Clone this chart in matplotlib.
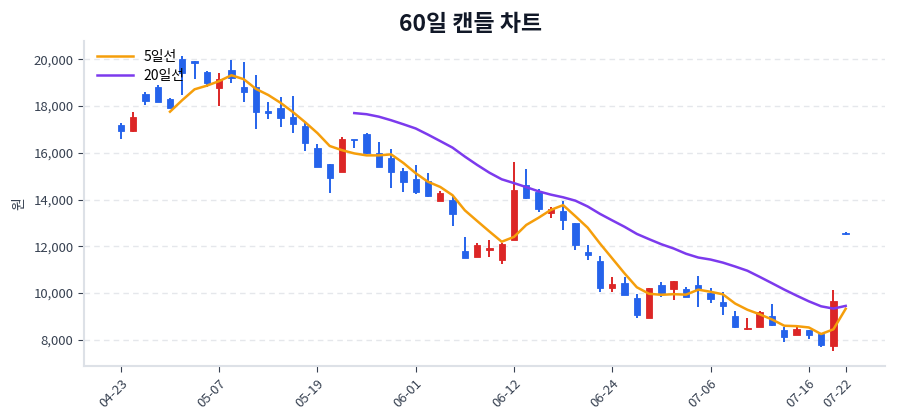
import matplotlib
matplotlib.use("Agg")
import matplotlib.pyplot as plt
import numpy as np
import pandas as pd

plt.rcParams["font.family"] = ["Noto Sans CJK KR", "DejaVu Sans"]

# 60일 OHLC
opens = [17190, 16920, 18500, 18800, 18290, 20010, 19930, 19460, 18790, 19540,
         18800, 18800, 17790, 17930, 17520, 17160, 16200, 15510, 15170, 16560,
         16790, 15980, 15770, 15230, 14880, 14800, 13920, 13990, 11810, 11540,
         11850, 11420, 12280, 14630, 14340, 13420, 13490, 12990, 11740, 11380,
         10210, 10430, 9790, 8930, 10330, 10190, 10190, 10360, 10000, 9620,
         9030, 8440, 8550, 9000, 8400, 8220, 8430, 8260, 7710, 12560]
highs = [17265, 17761, 18616, 18902, 18330, 20154, 19930, 19487, 19427, 19970,
         19897, 19329, 18188, 18393, 18432, 17265, 16368, 15510, 16695, 16560,
         16840, 16481, 16167, 15369, 15484, 15129, 14386, 14131, 12394, 12137,
         12249, 12137, 15627, 15313, 14445, 13661, 13958, 12991, 12036, 11595,
         10685, 10670, 9972, 10214, 10470, 10530, 10270, 10712, 10214, 10030,
         9245, 8933, 9245, 9530, 8548, 8548, 8433, 8262, 10144, 12600]
lows = [16594, 16880, 18047, 18175, 17930, 18474, 19158, 18829, 18017, 18975,
        18178, 17022, 17436, 17120, 16838, 16082, 15385, 14274, 15170, 16197,
        15940, 15390, 14488, 14343, 14244, 14088, 13920, 12877, 11497, 11520,
        11523, 11253, 12279, 14018, 13445, 13205, 12706, 11851, 11424, 10060,
        10030, 9900, 8933, 8930, 9830, 9700, 9830, 9389, 9574, 9074,
        8505, 8433, 8548, 8604, 7890, 8220, 8035, 7690, 7506, 12500]
closes = [16950, 17520, 18220, 18180, 17930, 19430, 19830, 19000, 19150, 19190,
          18590, 17740, 17700, 17480, 17220, 16410, 15410, 14940, 16580, 16530,
          15990, 15410, 15160, 14730, 14340, 14160, 14300, 13390, 11500, 12060,
          11910, 12110, 14420, 14060, 13600, 13590, 13130, 12040, 11610, 10210,
          10400, 9930, 9070, 10210, 10000, 10530, 9830, 10140, 9760, 9460,
          8550, 8500, 9170, 8650, 8120, 8460, 8220, 7760, 9660, 12520]
tick_labels = ["04-23", "05-07", "05-19", "06-01", "06-12", "06-24", "07-06", "07-16", "07-22"]

UP = "#dc2626"
DOWN = "#2563eb"
MA5_COLOR = "#f59e0b"
MA20_COLOR = "#7c3aed"
TEXT = "#374151"

df = pd.DataFrame({"open": opens, "high": highs, "low": lows, "close": closes})
df["ma5"] = df["close"].rolling(5).mean()
df["ma20"] = df["close"].rolling(20).mean()
x = np.arange(len(df))
colors = np.where(df["close"] >= df["open"], UP, DOWN)

fig = plt.figure(figsize=(9, 4.2), dpi=100)
ax = fig.add_axes([84 / 900, 54 / 420, 801 / 900, 325 / 420])

body_bottom = np.minimum(df["open"], df["close"])
body_height = np.maximum((df["close"] - df["open"]).abs(), 60)
ax.vlines(x, df["low"], df["high"], colors=colors, linewidth=1.4, zorder=2)
ax.bar(x, body_height, bottom=body_bottom, width=0.52, color=colors,
       edgecolor=colors, linewidth=0.6, zorder=3)

ax.plot(x, df["ma5"], color=MA5_COLOR, linewidth=1.8, label="5일선", zorder=4)
ax.plot(x, df["ma20"], color=MA20_COLOR, linewidth=1.8, label="20일선", zorder=4)

ax.set_xlim(-3, 62.2)
ax.set_ylim(6874, 20786)
ticks = list(range(0, len(df), 8)) + [len(df) - 1]
ax.set_xticks(ticks)
ax.set_xticklabels(tick_labels, rotation=45, ha="right", rotation_mode="anchor")
ax.set_yticks([8000, 10000, 12000, 14000, 16000, 18000, 20000])
ax.yaxis.set_major_formatter(matplotlib.ticker.FuncFormatter(lambda v, p: f"{v:,.0f}"))
ax.tick_params(axis="both", labelsize=9.5, colors=TEXT, length=4, width=0.8)
ax.tick_params(axis="x", pad=4)

ax.grid(axis="y", linestyle=(0, (4, 3)), color="#e5e7eb", linewidth=1)
ax.set_axisbelow(True)
for side in ("top", "right"):
    ax.spines[side].set_visible(False)
for side in ("left", "bottom"):
    ax.spines[side].set_color("#dde1e7")
    ax.spines[side].set_linewidth(1.5)

ax.set_ylabel("원", color=TEXT, fontsize=10, labelpad=5)
ax.set_title("60일 캔들 차트", fontsize=16.5, fontweight="bold", color="#111827",
             x=0.483, pad=7)
ax.legend(loc="upper left", frameon=False, fontsize=10, handlelength=2.6,
          labelspacing=0.35, bbox_to_anchor=(0.0, 1.01))

fig.savefig("out.png", dpi=100)
